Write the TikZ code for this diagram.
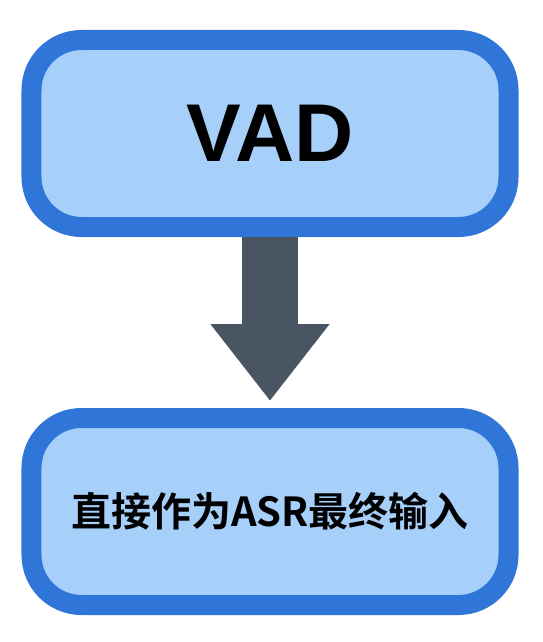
\documentclass[tikz,border=0pt]{standalone}
\usepackage{fontspec}
\usepackage{tikz}
\usetikzlibrary{positioning,arrows.meta,shapes}
\newfontfamily\vadfont{Liberation Sans}
\newfontfamily\cjkfont{Noto Sans CJK SC}[BoldFont={Noto Sans CJK SC Bold}]
\definecolor{boxedge}{HTML}{3075D8}
\definecolor{boxfill}{HTML}{A6CFFA}
\definecolor{arrowgray}{HTML}{4A5563}

\begin{document}
\begin{tikzpicture}[x=1pt,y=1pt,
  node distance=170pt,
  stage/.style={
    draw=boxedge,fill=boxfill,line width=20pt,rounded corners=50pt,
    minimum width=477pt,minimum height=187pt,align=center,inner sep=0pt
  },
  flow/.style={
    draw=arrowgray,line width=56pt,
    -{Triangle[length=77pt,width=114pt]}
  }]
\useasboundingbox (-270,133.5) rectangle (273,-508.5);
\node[stage] (vad)
  {\vadfont\bfseries\fontsize{82pt}{90pt}\selectfont VAD};

\node[stage,below=of vad,yshift=-1pt] (input)
  {\cjkfont\bfseries\fontsize{40pt}{46pt}\selectfont 直接作为ASR最终输入};

\draw[flow] (vad.south) -- ([yshift=7pt]input.north);
\end{tikzpicture}
\end{document}
